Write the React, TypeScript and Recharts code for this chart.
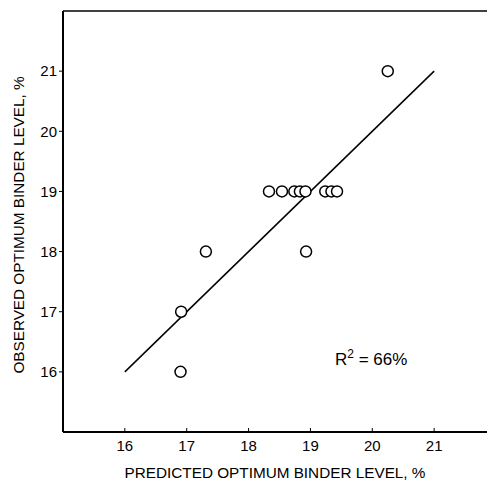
import { ScatterChart, Scatter, XAxis, YAxis, ReferenceLine } from "recharts";

// predicted (x) vs observed (y) binder level, %
const PREDICTED = [20.25, 18.33, 18.54, 18.74, 18.83, 18.92, 19.24, 19.34, 19.43, 18.93, 17.31, 16.91, 16.9];
const OBSERVED = [21, 19, 19, 19, 19, 19, 19, 19, 19, 18, 18, 17, 16];
const FIT_X = [16, 21];
const FIT_Y = [16, 21];
const TICKS = [16, 17, 18, 19, 20, 21];

const points = PREDICTED.map((x, i) => ({ x, y: OBSERVED[i] }));
const fit = FIT_X.map((x, i) => ({ x, y: FIT_Y[i] }));

const FONT = "'Liberation Sans', Arial, sans-serif";

function Ring({ cx, cy }: { cx?: number; cy?: number }) {
  return <circle cx={cx} cy={cy} r={5.5} fill="#fff" stroke="#000" strokeWidth={1.5} />;
}

function XTick({ x, y, payload }: { x?: number; y?: number; payload?: { value: number } }) {
  return (
    <g>
      <line x1={x} x2={x} y1={(y ?? 0) - 4} y2={y} stroke="#000" strokeWidth={1} />
      <text x={x} y={(y ?? 0) + 19} textAnchor="middle" fontSize={15} fill="#000" fontFamily={FONT}>
        {payload?.value}
      </text>
    </g>
  );
}

export default function App() {
  return (
    <div style={{ position: "fixed", left: 0, top: 0, width: 487, height: 483, overflow: "hidden", background: "#fff", fontFamily: FONT }}>
      <ScatterChart width={496} height={483} margin={{ top: 11, right: 0, left: 0, bottom: 0 }}>
        <XAxis
          type="number"
          dataKey="x"
          domain={[15, 22]}
          ticks={TICKS}
          tickSize={0}
          tickMargin={0}
          tick={<XTick />}
          axisLine={{ stroke: "#000", strokeWidth: 2 }}
          height={51}
          allowDataOverflow
        />
        <YAxis
          type="number"
          dataKey="y"
          domain={[15, 22]}
          ticks={TICKS}
          tickSize={4}
          tickMargin={2}
          tick={{ fontSize: 15, fill: "#000", fontFamily: FONT }}
          tickLine={{ stroke: "#000" }}
          axisLine={{ stroke: "#000", strokeWidth: 2 }}
          width={63}
          allowDataOverflow
        />
        <ReferenceLine y={22} stroke="#000" strokeWidth={1.5} />
        <Scatter
          data={fit}
          line={{ stroke: "#000", strokeWidth: 1.5 }}
          shape={() => <g />}
          isAnimationActive={false}
        />
        <Scatter data={points} shape={<Ring />} isAnimationActive={false} />
      </ScatterChart>
      <div style={{ position: "absolute", left: 335, top: 344, fontSize: 17, lineHeight: "20px", color: "#000", whiteSpace: "nowrap" }}>
        R<sup style={{ fontSize: 12 }}>2</sup> = 66%
      </div>
      <div style={{ position: "absolute", left: 275, top: 473, transform: "translate(-50%, -50%)", fontSize: 15.3, color: "#000", whiteSpace: "nowrap" }}>
        PREDICTED OPTIMUM BINDER LEVEL, %
      </div>
      <div style={{ position: "absolute", left: 19, top: 225, transform: "translate(-50%, -50%) rotate(-90deg)", fontSize: 15.3, color: "#000", whiteSpace: "nowrap" }}>
        OBSERVED OPTIMUM BINDER LEVEL, %
      </div>
    </div>
  );
}
